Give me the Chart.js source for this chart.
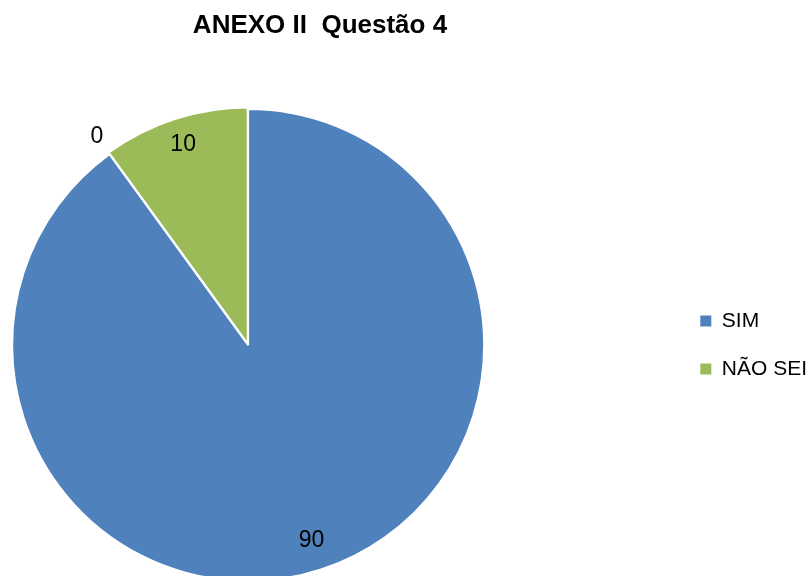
<!DOCTYPE html>
<html>
<head>
<meta charset="utf-8">
<script src="https://cdn.jsdelivr.net/npm/chart.js@4.4.1/dist/chart.umd.min.js"></script>
<style>
  html, body { margin: 0; padding: 0; background: #fff; overflow: hidden; }
  #wrap { position: relative; width: 808px; height: 576px; overflow: hidden; }
  #grafico { position: absolute; left: -177px; top: 0; }
</style>
</head>
<body>
<div id="wrap"><canvas id="grafico" width="994" height="639"></canvas></div>
<script>
// Respostas da questão 4
const categorias = ['SIM', 'NÃO', 'NÃO SEI'];
const respostas = [90, 0, 10];
const cores = ['#4F81BD', '#C0504D', '#9BBB59'];
const destaque = [0, 0, 5]; // fatia "NÃO SEI" um pouco afastada

Chart.defaults.font.family = '"Liberation Sans", Arial, sans-serif';
Chart.defaults.color = '#000';

// Escreve o valor de cada fatia (o zero fica do lado de fora)
const rotulos = {
    id: 'rotulos',
    afterDatasetsDraw(chart) {
        const ctx = chart.ctx;
        const meta = chart.getDatasetMeta(0);
        ctx.save();
        ctx.font = '23px "Liberation Sans", Arial, sans-serif';
        ctx.fillStyle = '#000';
        ctx.textAlign = 'center';
        ctx.textBaseline = 'middle';
        meta.data.forEach((arc, i) => {
            const p = arc.getProps(['x', 'y', 'startAngle', 'endAngle', 'outerRadius'], true);
            const meio = (p.startAngle + p.endAngle) / 2;
            const dist = (respostas[i] === 0 ? p.outerRadius * 1.09 : p.outerRadius * 0.87) + destaque[i];
            ctx.fillText(String(respostas[i]), p.x + Math.cos(meio) * dist, p.y + Math.sin(meio) * dist);
        });
        ctx.restore();
    }
};

// Quadradinhos da legenda sem a borda branca
const gerarLegenda = Chart.overrides.pie.plugins.legend.labels.generateLabels;

const ctx = document.getElementById('grafico').getContext('2d');
new Chart(ctx, {
    type: 'pie',
    data: {
        labels: categorias,
        datasets: [{
            data: respostas,
            backgroundColor: cores,
            borderColor: '#fff',
            borderWidth: 2,
            offset: destaque,
            hoverOffset: 0,
            radius: 236
        }]
    },
    options: {
        responsive: false,
        animation: false,
        events: [],
        plugins: {
            title: {
                display: true,
                text: 'ANEXO II  Questão 4',
                font: { size: 26, weight: 'bold' },
                padding: { top: 10, bottom: 10 }
            },
            legend: {
                position: 'right',
                fullSize: false,
                labels: {
                    boxWidth: 11,
                    boxHeight: 11,
                    padding: 27,
                    font: { size: 21 },
                    generateLabels: chart => gerarLegenda(chart).map(item => ({ ...item, lineWidth: 0 })),
                    filter: item => respostas[item.index] > 0
                }
            },
            tooltip: { enabled: false }
        }
    },
    plugins: [rotulos]
});
</script>
</body>
</html>
